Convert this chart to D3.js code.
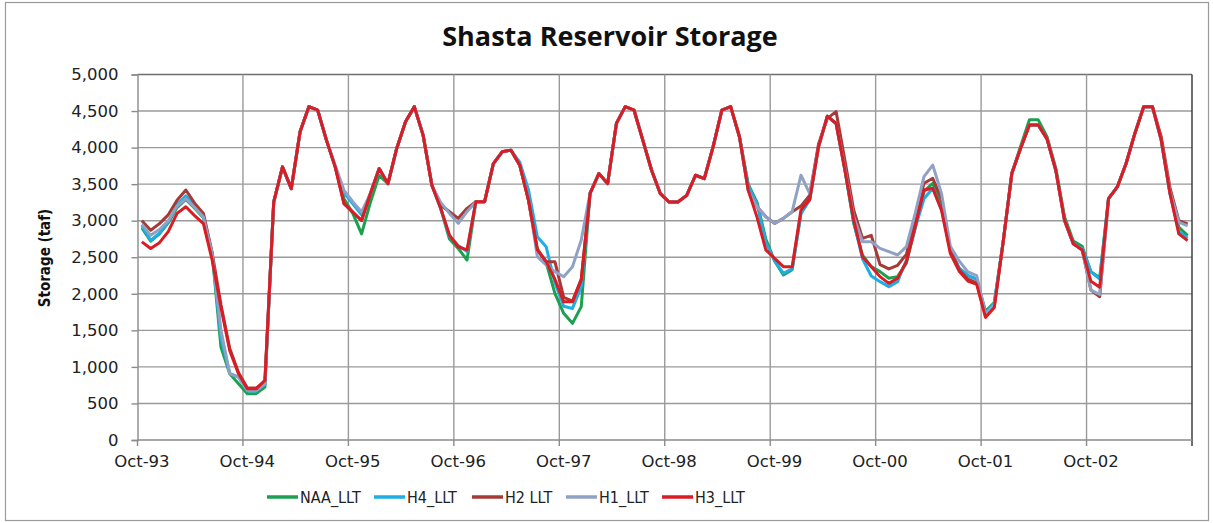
<!DOCTYPE html>
<html>
<head>
<meta charset="utf-8">
<script src="https://cdn.jsdelivr.net/npm/d3@7"></script>
<style>
  body { margin: 0; background: #fff; }
  svg { display: block; }
</style>
</head>
<body>
<script>
// month-end storage, Oct-93 .. Sep-03 (taf)
var yearLabels = ["Oct-93", "Oct-94", "Oct-95", "Oct-96", "Oct-97", "Oct-98", "Oct-99", "Oct-00", "Oct-01", "Oct-02"];
var seriesNames = ["NAA_LLT", "H4_LLT", "H2 LLT", "H1_LLT", "H3_LLT"];
var seriesColors = ["#1ca04f", "#1eaee6", "#a63a36", "#8fa2c6", "#da1c24"];

var naa = [2900, 2720, 2820, 2970, 3180, 3290, 3170, 3040, 2550, 1268, 905, 770,
  634, 634, 724, 3255, 3736, 3438, 4217, 4560, 4514, 4102, 3736, 3300,
  3100, 2820, 3250, 3620, 3507, 3988, 4354, 4560, 4171, 3484, 3170, 2750,
  2620, 2462, 3260, 3260, 3782, 3942, 3965, 3759, 3278, 2620, 2430, 2007,
  1733, 1596, 1824, 3375, 3645, 3507, 4331, 4560, 4514, 4102, 3690, 3370,
  3255, 3255, 3347, 3622, 3576, 4011, 4514, 4560, 4148, 3500, 3250, 2750,
  2450, 2257, 2330, 3100, 3290, 4011, 4430, 4330, 3700, 2964, 2530, 2371,
  2303, 2212, 2235, 2420, 2900, 3400, 3512, 3200, 2600, 2350, 2250, 2200,
  1760, 1880, 2700, 3650, 4020, 4380, 4380, 4150, 3720, 3050, 2720, 2650,
  2300, 2220, 3301, 3462, 3782, 4194, 4560, 4560, 4102, 3370, 2911, 2797];

var h4 = [2930, 2730, 2830, 2980, 3220, 3340, 3200, 3060, 2550, 1400, 910, 860,
  670, 670, 760, 3255, 3736, 3438, 4217, 4560, 4514, 4102, 3736, 3380,
  3230, 3080, 3370, 3713, 3507, 3988, 4354, 4560, 4171, 3484, 3170, 2790,
  2660, 2580, 3260, 3260, 3782, 3942, 3965, 3800, 3420, 2780, 2644, 2150,
  1830, 1800, 2097, 3375, 3645, 3507, 4331, 4560, 4514, 4102, 3690, 3370,
  3255, 3255, 3347, 3622, 3576, 4011, 4514, 4560, 4148, 3480, 3230, 2700,
  2450, 2280, 2340, 3100, 3290, 4011, 4430, 4330, 3690, 2990, 2480, 2243,
  2166, 2098, 2166, 2462, 2900, 3300, 3443, 3150, 2600, 2350, 2250, 2200,
  1740, 1870, 2700, 3650, 3990, 4310, 4310, 4120, 3690, 3003, 2683, 2620,
  2300, 2200, 3301, 3462, 3782, 4194, 4560, 4560, 4102, 3370, 2850, 2760];

var h2 = [3000, 2870, 2960, 3080, 3280, 3420, 3240, 3100, 2560, 1850, 1250, 920,
  710, 710, 800, 3255, 3736, 3438, 4217, 4560, 4514, 4102, 3736, 3232,
  3118, 3003, 3370, 3713, 3507, 3988, 4354, 4560, 4171, 3484, 3215, 3123,
  3032, 3169, 3260, 3260, 3782, 3942, 3965, 3759, 3278, 2600, 2440, 2440,
  1950, 1900, 2200, 3375, 3645, 3507, 4331, 4560, 4514, 4102, 3690, 3370,
  3255, 3255, 3347, 3622, 3576, 4011, 4514, 4560, 4148, 3415, 3192, 3055,
  2964, 3032, 3123, 3200, 3350, 4050, 4400, 4492, 3827, 3146, 2759, 2800,
  2400, 2340, 2390, 2540, 3055, 3512, 3580, 3300, 2600, 2330, 2200, 2150,
  1700, 1830, 2700, 3650, 3990, 4310, 4310, 4120, 3690, 3003, 2683, 2600,
  2050, 1960, 3301, 3462, 3782, 4194, 4560, 4560, 4150, 3450, 3000, 2957];

var h1 = [2950, 2800, 2880, 3000, 3200, 3300, 3180, 3050, 2550, 1500, 905, 860,
  680, 680, 770, 3255, 3736, 3438, 4217, 4560, 4514, 4102, 3760, 3415,
  3260, 3120, 3370, 3713, 3507, 3988, 4354, 4560, 4171, 3484, 3250, 3100,
  2964, 3123, 3260, 3260, 3782, 3942, 3965, 3759, 3300, 2509, 2394, 2303,
  2234, 2371, 2736, 3375, 3645, 3507, 4331, 4560, 4514, 4102, 3690, 3370,
  3255, 3255, 3347, 3622, 3576, 4011, 4514, 4560, 4148, 3415, 3192, 3055,
  2964, 3032, 3123, 3622, 3370, 4011, 4430, 4330, 3720, 3055, 2713, 2713,
  2622, 2577, 2531, 2645, 3101, 3602, 3760, 3370, 2650, 2450, 2300, 2250,
  1720, 1850, 2700, 3650, 3990, 4310, 4310, 4120, 3690, 3003, 2683, 2600,
  2050, 1990, 3301, 3462, 3782, 4194, 4560, 4560, 4102, 3400, 2980, 2930];

var h3 = [2710, 2620, 2700, 2850, 3100, 3190, 3070, 2960, 2460, 1810, 1220, 905,
  700, 700, 815, 3255, 3736, 3438, 4217, 4560, 4514, 4102, 3736, 3232,
  3118, 3003, 3370, 3713, 3507, 3988, 4354, 4560, 4171, 3484, 3170, 2804,
  2644, 2600, 3260, 3260, 3782, 3942, 3965, 3759, 3278, 2600, 2440, 2200,
  1890, 1890, 2190, 3375, 3645, 3507, 4331, 4560, 4514, 4102, 3690, 3370,
  3255, 3255, 3347, 3622, 3576, 4011, 4514, 4560, 4148, 3415, 3049, 2600,
  2485, 2371, 2371, 3146, 3290, 4011, 4430, 4330, 3690, 3010, 2508, 2371,
  2235, 2143, 2212, 2440, 2918, 3420, 3443, 3140, 2550, 2310, 2174, 2129,
  1676, 1811, 2700, 3650, 3990, 4310, 4310, 4120, 3690, 3003, 2683, 2600,
  2170, 2090, 3301, 3462, 3782, 4194, 4560, 4560, 4102, 3370, 2820, 2728];

var allSeries = [naa, h4, h2, h1, h3];

var width = 1213,
    height = 523;

var margin = {left: 137.5, right: 1192, top: 74.5, bottom: 440};

var svg = d3.select("body")
    .append("svg")
    .attr("width", width)
    .attr("height", height);

// outer frame
svg.append("rect")
    .attr("x", 5.5).attr("y", 2.5)
    .attr("width", 1203).attr("height", 518)
    .attr("fill", "none")
    .attr("stroke", "#9a9a9a")
    .attr("stroke-width", 1.2);

// x is a category axis, each month a band
var x = d3.scaleBand()
    .domain(d3.range(naa.length))
    .range([margin.left, margin.right]);

var y = d3.scaleLinear()
    .domain([0, 5000])
    .range([margin.bottom, margin.top]);

var grid = svg.append("g");

// horizontal gridlines
grid.selectAll("line.h")
    .data(d3.range(500, 5001, 500))
    .enter()
    .append("line")
    .attr("x1", margin.left).attr("x2", margin.right)
    .attr("y1", function (d) { return y(d); })
    .attr("y2", function (d) { return y(d); })
    .attr("stroke", function (d) { return d == 5000 ? "#6e6e6e" : "#9a9a9a"; })
    .attr("stroke-width", 1.4);

// vertical gridlines at each October
var octs = yearLabels.map(function (d, i) { return i * 12; });
grid.selectAll("line.v")
    .data(octs.slice(1))
    .enter()
    .append("line")
    .attr("x1", function (d) { return x(d); })
    .attr("x2", function (d) { return x(d); })
    .attr("y1", margin.top).attr("y2", margin.bottom)
    .attr("stroke", "#9a9a9a")
    .attr("stroke-width", 1.4);

// right edge of plot
grid.append("line")
    .attr("x1", margin.right).attr("x2", margin.right)
    .attr("y1", margin.top).attr("y2", margin.bottom + 6)
    .attr("stroke", "#333")
    .attr("stroke-width", 1.4);

// y axis
var yAxis = svg.append("g")
    .attr("transform", "translate(" + margin.left + ",0)")
    .call(d3.axisLeft(y)
        .tickValues(d3.range(0, 5001, 500))
        .tickFormat(d3.format(","))
        .tickSize(6)
        .tickPadding(13));
yAxis.select(".domain").attr("stroke", "#8a8a8a").attr("stroke-width", 1.4);
yAxis.selectAll(".tick line").attr("stroke", "#8a8a8a").attr("stroke-width", 1.4);
yAxis.selectAll("text")
    .attr("font-family", "DejaVu Sans, sans-serif")
    .attr("font-size", "16.5px")
    .attr("fill", "#222");

// x axis line and ticks at band edges
svg.append("line")
    .attr("x1", margin.left).attr("x2", margin.right)
    .attr("y1", margin.bottom).attr("y2", margin.bottom)
    .attr("stroke", "#8a8a8a").attr("stroke-width", 1.4);
svg.selectAll("line.xt")
    .data(octs)
    .enter()
    .append("line")
    .attr("x1", function (d) { return x(d); })
    .attr("x2", function (d) { return x(d); })
    .attr("y1", margin.bottom).attr("y2", margin.bottom + 6)
    .attr("stroke", "#8a8a8a").attr("stroke-width", 1.4);

// x labels sit at the centre of the October band
svg.selectAll("text.xl")
    .data(yearLabels)
    .enter()
    .append("text")
    .attr("x", function (d, i) { return x(i * 12) + x.bandwidth() / 2; })
    .attr("y", 467)
    .attr("text-anchor", "middle")
    .attr("font-family", "DejaVu Sans, sans-serif")
    .attr("font-size", "16.5px")
    .attr("fill", "#222")
    .text(function (d) { return d; });

// title
svg.append("text")
    .attr("x", 610)
    .attr("y", 46)
    .attr("text-anchor", "middle")
    .attr("font-family", "Open Sans, sans-serif")
    .attr("font-weight", "bold")
    .attr("font-size", "27px")
    .attr("fill", "#111")
    .text("Shasta Reservoir Storage");

// y axis title
svg.append("text")
    .attr("transform", "translate(50,258) rotate(-90)")
    .attr("text-anchor", "middle")
    .attr("font-family", "Liberation Sans Narrow, DejaVu Sans Condensed, sans-serif")
    .attr("font-weight", "bold")
    .attr("font-size", "15px")
    .attr("fill", "#111")
    .text("Storage (taf)");

// series lines
var line = d3.line()
    .x(function (d, i) { return x(i) + x.bandwidth() / 2; })
    .y(function (d) { return y(d); });

svg.append("g")
    .selectAll("path")
    .data(allSeries)
    .enter()
    .append("path")
    .attr("d", function (d) { return line(d); })
    .attr("fill", "none")
    .attr("stroke", function (d, i) { return seriesColors[i]; })
    .attr("stroke-width", 3)
    .attr("stroke-linejoin", "round");

// legend
var legendX = [267, 374, 472, 566, 662];
var legend = svg.append("g")
    .selectAll("g")
    .data(seriesNames)
    .enter()
    .append("g")
    .attr("transform", function (d, i) { return "translate(" + legendX[i] + ",497)"; });

legend.append("line")
    .attr("x1", 0).attr("x2", 31)
    .attr("stroke", function (d, i) { return seriesColors[i]; })
    .attr("stroke-width", 3.5);

legend.append("text")
    .attr("x", 33)
    .attr("y", 5.5)
    .attr("font-family", "Liberation Sans Narrow, DejaVu Sans Condensed, sans-serif")
    .attr("font-size", "16px")
    .attr("fill", "#222")
    .text(function (d) { return d; });
</script>
</body>
</html>
